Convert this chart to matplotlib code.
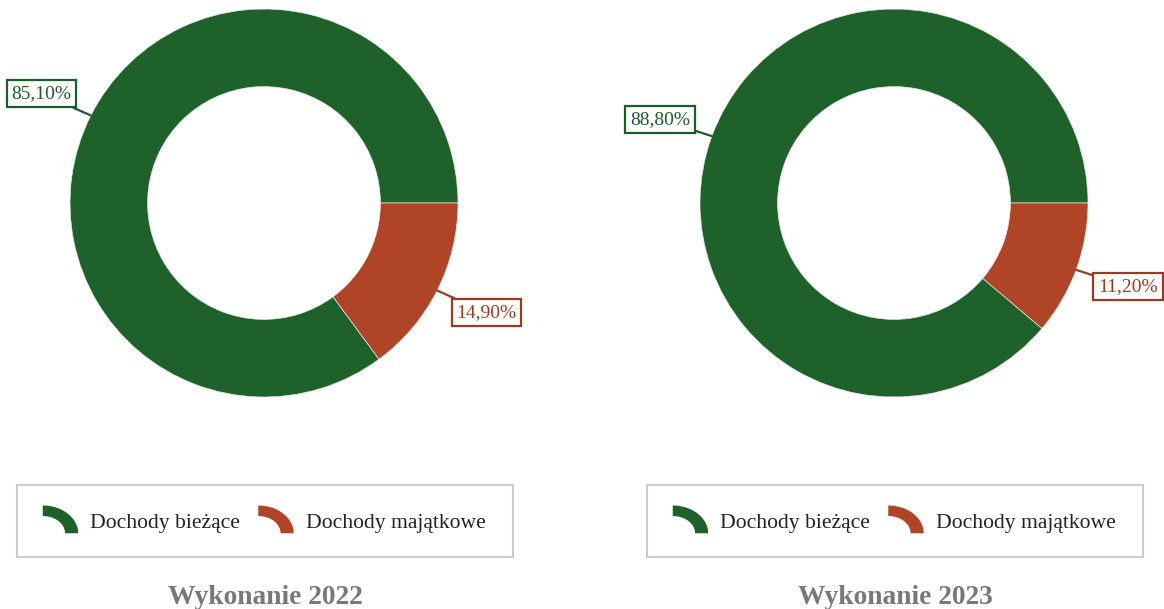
import numpy as np
import matplotlib.pyplot as plt
from matplotlib.legend_handler import HandlerBase
from matplotlib.patches import Polygon, Rectangle, Wedge

plt.rcParams['font.family'] = ['Liberation Serif', 'DejaVu Serif']

# dane
categories = ['Dochody bieżące', 'Dochody majątkowe']
titles = ['Wykonanie 2022', 'Wykonanie 2023']
values_2022 = [85.10, 14.90]
values_2023 = [88.80, 11.20]
colors = ['#1f612a', '#b04427']
label_colors = ['#1d5c27', '#9a3a23']

W, H = 1164, 609
fig = plt.figure(figsize=(W / 100, H / 100), dpi=100)


def fig_rect(x, y, w, h):
    # piksele (od lewego górnego rogu) -> ułamki figury
    return [x / W, 1 - (y + h) / H, w / W, h / H]


class ArcHandler(HandlerBase):
    # ikona legendy w kształcie wycinka pierścienia
    def create_artists(self, legend, orig_handle, xdescent, ydescent,
                       width, height, fontsize, trans):
        iw, ih = 25.5, 20.0
        x0 = -xdescent
        y0 = -ydescent + height / 2 - ih / 2 + 1.0
        t = np.linspace(0, np.pi / 2, 40)
        outer = np.column_stack([x0 + iw * np.cos(t), y0 + ih * np.sin(t)])
        inner = np.column_stack([x0 + 0.63 * iw * np.cos(t[::-1]),
                                 y0 + 0.62 * ih * np.sin(t[::-1])])
        p = Polygon(np.vstack([outer, inner]), closed=True,
                    fc=orig_handle.get_facecolor(), ec='none', transform=trans)
        return [p]


R = 194
half = 300
for vals, title, cx, bx in zip([values_2022, values_2023], titles, [264, 894], [17, 647]):
    ax = fig.add_axes(fig_rect(cx - half, 203 - half, 2 * half, 2 * half))
    wedges, _ = ax.pie(vals, colors=colors, startangle=0, counterclock=True, radius=1,
                       wedgeprops=dict(width=0.4, edgecolor='#e6e6e6', linewidth=0.5))
    ax.set_xlim(-half / R, half / R)
    ax.set_ylim(-half / R, half / R)
    ax.set_aspect('equal')
    ax.axis('off')

    for w, v, lc in zip(wedges, vals, label_colors):
        ang = np.deg2rad((w.theta1 + w.theta2) / 2)
        x, y = np.cos(ang), np.sin(ang)
        ax.annotate(f'{v:.2f}%'.replace('.', ','), xy=(x, y), xytext=(1.285 * x, 1.25 * y),
                    ha='center', va='center', fontsize=14, color=lc,
                    bbox=dict(boxstyle='square,pad=0.25', fc='white', ec=lc, lw=1.6),
                    arrowprops=dict(arrowstyle='-', color=lc, lw=1.6, shrinkA=0, shrinkB=0))

    # ramka legendy
    fig.add_artist(Rectangle((bx / W, 1 - 557 / H), 496 / W, 72 / H, transform=fig.transFigure,
                             fill=False, ec='#cccccc', lw=1.5))
    fig.legend(wedges, categories, loc='center', bbox_to_anchor=((bx + 247) / W, 1 - 521 / H),
               ncol=2, frameon=False, fontsize=15.6, handler_map={Wedge: ArcHandler()},
               handlelength=1.63, handleheight=1.3, handletextpad=0.55, columnspacing=0.85,
               labelcolor='#222222')

    fig.text((bx + 248) / W, 1 - 597 / H, title, ha='center', va='center',
             fontsize=19.8, fontweight='bold', color='#787878')

fig.savefig('out.png', dpi=100)
